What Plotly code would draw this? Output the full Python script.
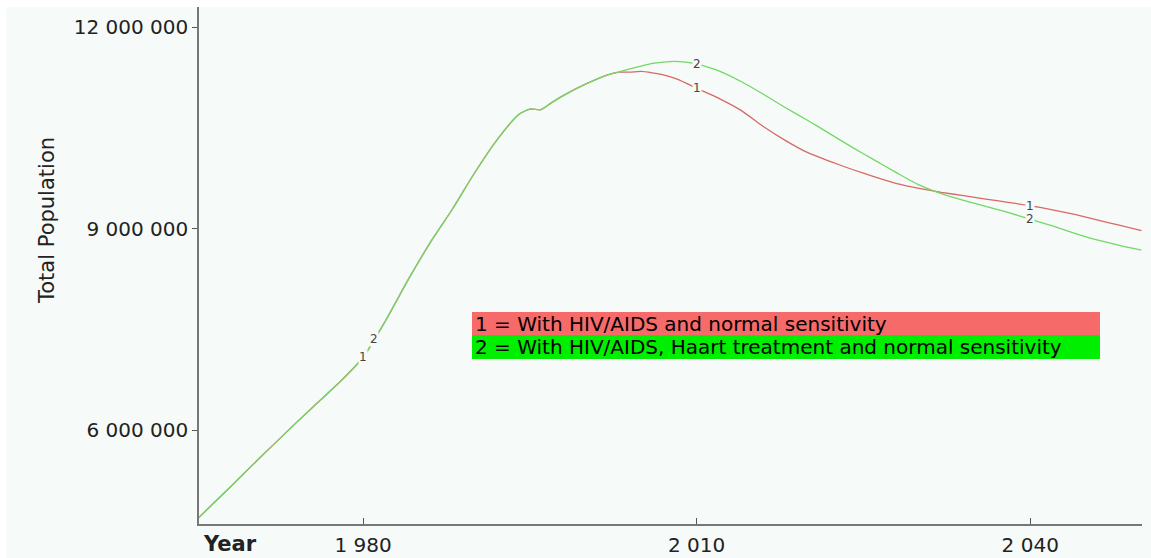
import numpy as np
import plotly.graph_objects as go

# ---- data (millions) ----
years = [1965, 1966, 1968, 1970, 1972, 1974, 1976, 1978, 1980, 1982, 1984, 1986,
         1988, 1990, 1992, 1994, 1995, 1996, 1997, 1998, 2000, 2002, 2003, 2004,
         2005, 2006, 2007, 2008, 2009, 2010, 2012, 2014, 2016, 2018, 2020, 2022,
         2024, 2026, 2028, 2030, 2032, 2034, 2036, 2038, 2040, 2042, 2044, 2046,
         2048, 2050]

haart = [4.66, 4.82, 5.14, 5.47, 5.79, 6.11, 6.42, 6.73, 7.08, 7.62, 8.22, 8.78,
         9.28, 9.82, 10.31, 10.70, 10.78, 10.77, 10.88, 10.98, 11.15, 11.29, 11.33, 11.38,
         11.42, 11.46, 11.48, 11.49, 11.48, 11.45, 11.35, 11.19, 11.00, 10.80, 10.61, 10.41,
         10.21, 10.02, 9.83, 9.65, 9.52, 9.42, 9.33, 9.24, 9.14, 9.04, 8.93, 8.83,
         8.75, 8.68]

normal = [4.66, 4.82, 5.14, 5.47, 5.79, 6.11, 6.42, 6.73, 7.08, 7.62, 8.22, 8.78,
          9.28, 9.82, 10.31, 10.70, 10.78, 10.77, 10.88, 10.98, 11.15, 11.29, 11.33, 11.33,
          11.34, 11.32, 11.29, 11.24, 11.17, 11.09, 10.94, 10.76, 10.52, 10.31, 10.13, 10.00,
          9.88, 9.77, 9.67, 9.60, 9.54, 9.49, 9.44, 9.39, 9.34, 9.28, 9.21, 9.13,
          9.05, 8.97]

series_names = ["1 = With HIV/AIDS and normal sensitivity",
                "2 = With HIV/AIDS, Haart treatment and normal sensitivity"]

label_years_1 = [1980, 2010, 2040]
label_years_2 = [1981, 2010, 2040]

x_tickvals = [1980, 2010, 2040]
x_ticktext = ["1 980", "2 010", "2 040"]
y_tickvals = [6, 9, 12]
y_ticktext = ["6 000 000", "9 000 000", "12 000 000"]

RED = "#d96868"
GREEN = "#72d866"
BG = "#f6faf8"
FONT = "DejaVu Sans"

fig = go.Figure()
fig.add_trace(go.Scatter(x=years, y=normal, mode="lines", name=series_names[0],
                         line=dict(color=RED, width=1.3, shape="spline", smoothing=0.6)))
fig.add_trace(go.Scatter(x=years, y=haart, mode="lines", name=series_names[1],
                         line=dict(color=GREEN, width=1.3, shape="spline", smoothing=0.6)))

# on-line series number labels
for yrs, vals, txt in [(label_years_1, normal, "1"), (label_years_2, haart, "2")]:
    for yr in yrs:
        fig.add_annotation(x=yr, y=float(np.interp(yr, years, vals)), text=txt,
                           showarrow=False, font=dict(family=FONT, size=12, color="#444"),
                           bgcolor=BG, borderpad=0)

W, H = 1151, 558
L, R, T, B = 199, 9, 7, 34
pw, ph = W - L - R, H - T - B

def px(xpix):
    return (xpix - L) / pw

def py(ypix):
    return (H - B - ypix) / ph

# light background panel
fig.add_shape(type="rect", xref="paper", yref="paper", x0=px(6), x1=px(W + 5),
              y0=py(H + 5), y1=py(7), fillcolor=BG, line=dict(width=0), layer="below")

# legend boxes
for i, (col, y0p, y1p) in enumerate([("#f66a6a", 312, 335), ("#00ee00", 335, 359)]):
    fig.add_shape(type="rect", xref="paper", yref="paper", x0=px(472), x1=px(1100),
                  y0=py(y1p), y1=py(y0p), fillcolor=col, line=dict(width=0))
    fig.add_annotation(xref="paper", yref="paper", x=px(473), y=py((y0p + y1p) / 2),
                       xanchor="left", yanchor="middle", text=series_names[i],
                       showarrow=False, font=dict(family=FONT, size=20, color="#000"))

fig.add_annotation(xref="paper", yref="paper", x=px(33), y=py(221), text="Total Population",
                   textangle=-90, showarrow=False, font=dict(family=FONT, size=21, color="#222"))
fig.add_annotation(xref="paper", yref="paper", x=px(201), y=py(544), xanchor="left",
                   yanchor="middle", text="<b>Year</b>", showarrow=False,
                   font=dict(family=FONT, size=21, color="#222"))

fig.update_layout(
    width=W, height=H, template="none",
    paper_bgcolor="white", plot_bgcolor="rgba(0,0,0,0)",
    margin=dict(l=L, r=R, t=T, b=B, autoexpand=False),
    showlegend=False,
    xaxis=dict(range=[1965.25, 2050.05], tickvals=x_tickvals, ticktext=x_ticktext,
               showgrid=False, zeroline=False, showline=True, linecolor="#777",
               linewidth=1.5, ticks="inside", ticklen=6, tickcolor="#555",
               ticklabelstandoff=2,
               tickfont=dict(family=FONT, size=20, color="#222"), automargin=False),
    yaxis=dict(range=[4.60, 12.30], tickvals=y_tickvals, ticktext=y_ticktext,
               showgrid=False, zeroline=False, showline=True, linecolor="#777",
               linewidth=1.5, ticks="outside", ticklen=5, tickcolor="#555",
               tickfont=dict(family=FONT, size=20, color="#222"), automargin=False),
)

fig.write_html("out.html", config={"displayModeBar": False},
               post_script="document.body.style.margin='0px';document.body.style.padding='0px';document.body.style.overflow='hidden';")
